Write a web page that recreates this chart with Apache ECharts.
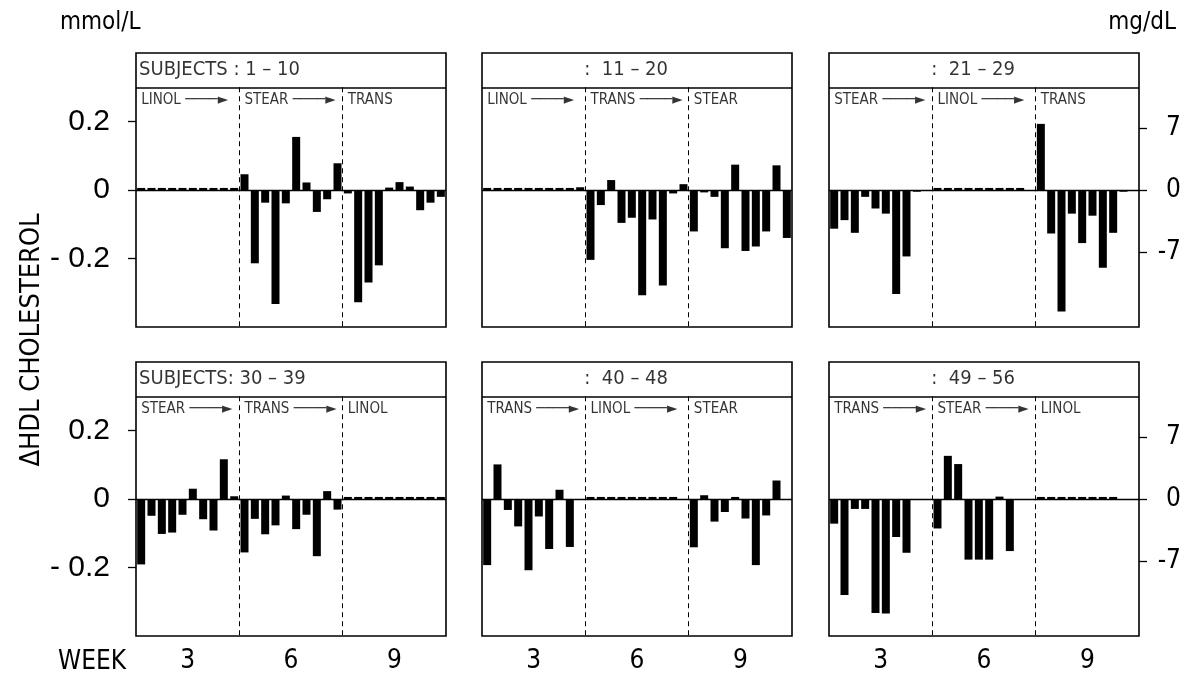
<!DOCTYPE html>
<html>
<head>
<meta charset="utf-8">
<script src="https://cdn.jsdelivr.net/npm/echarts@6/dist/echarts.min.js"></script>
<style>html,body{margin:0;padding:0;background:#fff}#c{width:1186px;height:679px}</style>
</head>
<body>
<div id="c"></div>
<script>
// ---------- data ----------
const MGDL_PER_MMOL = 38.67;
const weekLabels = ['3', '6', '9'];
const leftTicks = [-0.2, 0, 0.2];
const rightTicks = [-7, 0, 7];
const headers = ['SUBJECTS : 1 – 10', ':  11 – 20', ':  21 – 29', 'SUBJECTS: 30 – 39', ':  40 – 48', ':  49 – 56'];
const diets1 = ['LINOL', 'STEAR', 'TRANS'];
const diets2 = ['LINOL', 'TRANS', 'STEAR'];
const diets3 = ['STEAR', 'LINOL', 'TRANS'];
const diets4 = ['STEAR', 'TRANS', 'LINOL'];
const diets5 = ['TRANS', 'LINOL', 'STEAR'];
const diets6 = ['TRANS', 'STEAR', 'LINOL'];
// change in HDL cholesterol (mmol/L), 10 subject slots per diet period
const hdl1 = [0.006, 0.006, 0.006, 0.006, 0.006, 0.006, 0.006, 0.006, 0.006, 0.006,
  0.046, -0.214, -0.037, -0.333, -0.039, 0.155, 0.022, -0.064, -0.027, 0.078,
  -0.010, -0.328, -0.270, -0.220, 0.007, 0.023, 0.010, -0.059, -0.037, -0.020];
const hdl2 = [0.006, 0.006, 0.006, 0.006, 0.006, 0.006, 0.006, 0.006, 0.006, 0.008,
  -0.204, -0.044, 0.029, -0.096, -0.081, -0.307, -0.086, -0.279, -0.010, 0.017,
  -0.121, -0.007, -0.020, -0.170, 0.074, -0.178, -0.165, -0.121, 0.072, -0.140];
const hdl3 = [-0.113, -0.088, -0.125, -0.020, -0.054, -0.069, -0.304, -0.194, -0.005, null,
  0.006, 0.006, 0.006, 0.006, 0.006, 0.006, 0.006, 0.006, 0.006, null,
  0.193, -0.127, -0.355, -0.069, -0.155, -0.075, -0.227, -0.125, -0.005, null];
const hdl4 = [-0.191, -0.049, -0.102, -0.098, -0.046, 0.030, -0.059, -0.092, 0.116, 0.008,
  -0.156, -0.058, -0.103, -0.077, 0.010, -0.088, -0.046, -0.167, 0.023, -0.031,
  0.006, 0.006, 0.006, 0.006, 0.006, 0.006, 0.006, 0.006, 0.006, 0.006];
const hdl5 = [-0.193, 0.101, -0.032, -0.080, -0.208, -0.051, -0.146, 0.027, -0.140, null,
  0.006, 0.006, 0.006, 0.006, 0.006, 0.006, 0.006, 0.006, 0.006, null,
  -0.141, 0.011, -0.066, -0.038, 0.006, -0.057, -0.193, -0.048, 0.054, null];
const hdl6 = [-0.072, -0.280, -0.029, -0.029, -0.333, -0.334, -0.111, -0.157, null, null,
  -0.086, 0.126, 0.102, -0.177, -0.177, -0.177, 0.007, -0.152, null, null,
  0.006, 0.006, 0.006, 0.006, 0.006, 0.006, 0.006, 0.006, null, null];

// ---------- layout ----------
const hdlSets = [hdl1, hdl2, hdl3, hdl4, hdl5, hdl6];
const dietSets = [diets1, diets2, diets3, diets4, diets5, diets6];
const colLeft = [136, 482, 829];
const rowTop = [53, 362];
const GW = 310, GH = 274;
const SLOTS = 30, Y_MIN = -0.4, Y_MAX = 0.4, HEAD = 0.3, DIET_Y = 0.262;
const FONT = '"DejaVu Sans Condensed", "Liberation Sans Narrow", "DejaVu Sans", sans-serif';
const NUMFONT = '"Liberation Sans", Arial, sans-serif';

const grids = [], xAxes = [], yAxes = [], series = [];
for (let p = 0; p < 6; p++) {
  const r = Math.floor(p / 3), c = p % 3;
  grids.push({left: colLeft[c], top: rowTop[r], width: GW, height: GH, show: true,
    borderColor: '#000', borderWidth: 1.6, backgroundColor: 'transparent', containLabel: false});
  xAxes.push({type: 'value', gridIndex: p, min: 0, max: SLOTS,
    axisLine: {show: false}, splitLine: {show: false}, axisTick: {show: false},
    axisLabel: r === 1 ? {show: true, customValues: [5, 15, 25], margin: 12,
      formatter: v => weekLabels[Math.round((v - 5) / 10)],
      fontFamily: FONT, fontSize: 26, color: '#000'} : {show: false}});
  const yi = yAxes.length;
  yAxes.push({type: 'value', gridIndex: p, min: Y_MIN, max: Y_MAX, position: 'left',
    axisLine: {show: false}, splitLine: {show: false},
    axisTick: {show: c === 0, customValues: leftTicks, length: 8, lineStyle: {color: '#000', width: 1.3}},
    axisLabel: {show: c === 0, customValues: leftTicks, margin: 26,
      formatter: v => v === 0 ? '0' : (v < 0 ? '- ' + Math.abs(v) : String(v)),
      fontFamily: NUMFONT, fontSize: 30, color: '#000'}});
  if (c === 2) {
    yAxes.push({type: 'value', gridIndex: p, min: Y_MIN * MGDL_PER_MMOL, max: Y_MAX * MGDL_PER_MMOL,
      position: 'right', axisLine: {show: false}, splitLine: {show: false},
      axisTick: {show: true, customValues: rightTicks, length: 8, lineStyle: {color: '#000', width: 1.3}},
      axisLabel: {show: true, customValues: rightTicks, margin: 42, align: 'right',
        formatter: v => String(v), fontFamily: FONT, fontSize: 26, color: '#000'}});
  }
  const data = hdlSets[p].map((v, i) => v == null ? null : [i + 0.5, v]);
  series.push({type: 'bar', xAxisIndex: p, yAxisIndex: yi, data: data, barWidth: 8,
    itemStyle: {color: '#000'}, silent: true, animation: false,
    markLine: {silent: true, symbol: 'none', animation: false, label: {show: false},
      data: [
        [{coord: [0, 0], lineStyle: {type: 'solid', width: 1.3, color: '#000'}}, {coord: [SLOTS, 0]}],
        [{coord: [0, HEAD], lineStyle: {type: 'solid', width: 1.6, color: '#000'}}, {coord: [SLOTS, HEAD]}],
        [{coord: [10, HEAD], lineStyle: {type: [5, 4], width: 1, color: '#000'}}, {coord: [10, Y_MIN]}],
        [{coord: [20, HEAD], lineStyle: {type: [5, 4], width: 1, color: '#000'}}, {coord: [20, Y_MIN]}]
      ]}});
  // text labels: header + diets
  const labelData = [];
  labelData.push({value: [c === 0 ? 0.3 : 9.9, (HEAD + Y_MAX) / 2], name: headers[p],
    label: {fontSize: 20}});
  dietSets[p].forEach((d, k) => {
    labelData.push({value: [k * 10 + 0.5, DIET_Y], name: k < 2 ? d + ' ────►' : d,
      label: {fontSize: 15}});
  });
  series.push({type: 'scatter', xAxisIndex: p, yAxisIndex: yi, data: labelData, symbolSize: 0,
    silent: true, animation: false,
    label: {show: true, position: 'right', distance: 0, formatter: '{b}', color: '#000',
      fontFamily: FONT}});
}

const chart = echarts.init(document.getElementById('c'), null, {renderer: 'canvas'});
chart.setOption({
  backgroundColor: '#fff',
  animation: false,
  grid: grids, xAxis: xAxes, yAxis: yAxes, series: series,
  graphic: [
    {type: 'text', x: 60, y: 23, style: {text: 'mmol/L', font: '24px ' + FONT, fill: '#000', textVerticalAlign: 'middle'}},
    {type: 'text', x: 1176, y: 23, style: {text: 'mg/dL', font: '24px ' + FONT, fill: '#000', textAlign: 'right', textVerticalAlign: 'middle'}},
    {type: 'text', x: 58, y: 662, style: {text: 'WEEK', font: '26px ' + FONT, fill: '#000', textVerticalAlign: 'middle'}},
    {type: 'text', x: 32, y: 340, rotation: Math.PI / 2, style: {text: 'ΔHDL CHOLESTEROL', font: '27px ' + FONT, fill: '#000', textAlign: 'center', textVerticalAlign: 'middle'}}
  ]
});
</script>
</body>
</html>
